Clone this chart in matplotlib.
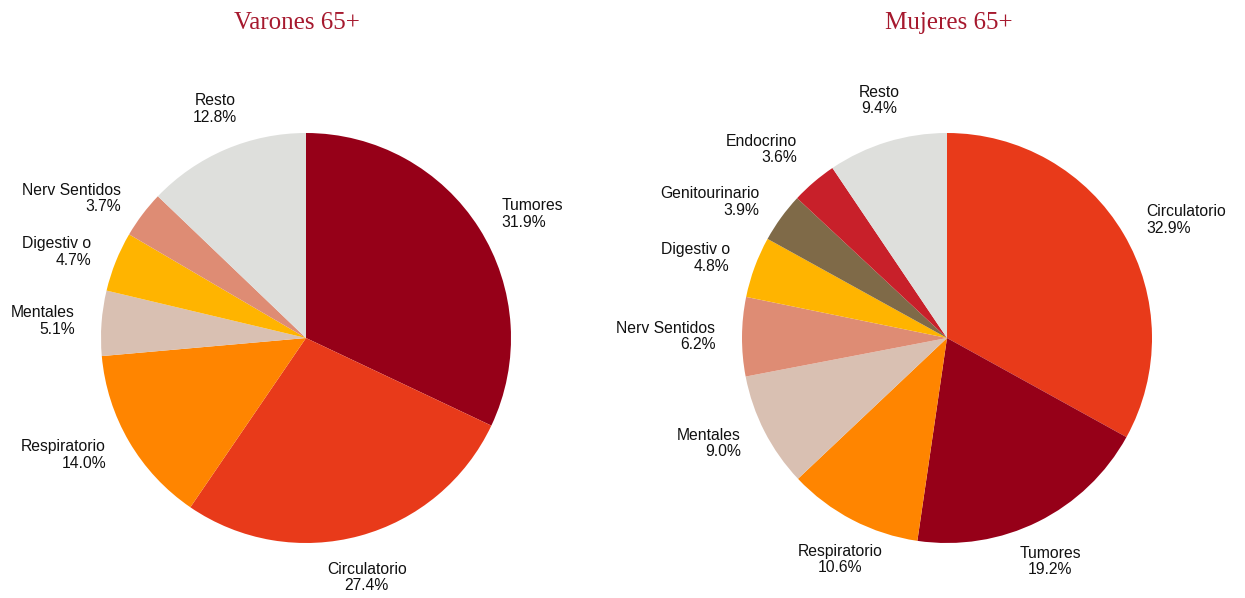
import numpy as np
import matplotlib
matplotlib.use("Agg")
import matplotlib.pyplot as plt

# Varones 65+
men_labels = ["Tumores", "Circulatorio", "Respiratorio", "Mentales",
              "Digestiv o", "Nerv Sentidos", "Resto"]
men_values = [31.9, 27.4, 14.0, 5.1, 4.7, 3.7, 12.8]
men_colors = ["#960018", "#E83A1A", "#FF8500", "#D9C0B2",
              "#FFB400", "#DE8C74", "#DEDFDC"]

# Mujeres 65+
women_labels = ["Circulatorio", "Tumores", "Respiratorio", "Mentales",
                "Nerv Sentidos", "Digestiv o", "Genitourinario", "Endocrino", "Resto"]
women_values = [32.9, 19.2, 10.6, 9.0, 6.2, 4.8, 3.9, 3.6, 9.4]
women_colors = ["#E83A1A", "#960018", "#FF8500", "#D9C0B2",
                "#DE8C74", "#FFB400", "#7F6A48", "#C8202A", "#DEDFDC"]

W, H = 1245, 598
R = 205
fig = plt.figure(figsize=(W / 100, H / 100), dpi=100)


def draw_pie(cx, cy, values, labels, colors, title, title_x):
    ax = fig.add_axes([(cx - R) / W, (H - cy - R) / H, 2 * R / W, 2 * R / H])
    ax.pie(values, colors=colors, startangle=90, counterclock=False,
           radius=1, wedgeprops=dict(linewidth=0))
    ax.set_xlim(-1, 1)
    ax.set_ylim(-1, 1)
    ax.set_aspect("equal")
    ax.axis("off")

    # etiquetas fuera de la torta, al estilo Excel
    total = sum(values)
    cum = 0
    for v, lab in zip(values, labels):
        mid = np.deg2rad(90 - (cum + v / 2) / total * 360)
        cum += v
        c, s = np.cos(mid), np.sin(mid)
        x, y = 1.13 * c, 1.13 * s
        if abs(c) < 0.5:
            ha = "center"
            va = "bottom" if s > 0 else "top"
        else:
            ha = "left" if c > 0 else "right"
            va = "center"
        if lab == "Endocrino":
            y += 0.06
        ax.text(x, y, f"{lab}\n{v:.1f}%", ha=ha, va=va, multialignment=ha,
                fontsize=11.3, family="Liberation Sans", color="#111111",
                linespacing=1.15, clip_on=False)

    fig.text(title_x / W, 1 - 23 / H, title, ha="center", va="center",
             fontsize=18, family="Liberation Serif", color="#A6192E")


draw_pie(306, 338, men_values, men_labels, men_colors, "Varones 65+", 297)
draw_pie(947, 338, women_values, women_labels, women_colors, "Mujeres 65+", 949)

fig.savefig("out.png", dpi=100)
